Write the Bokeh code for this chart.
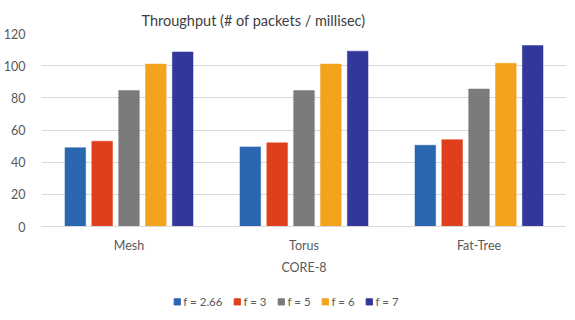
from bokeh.plotting import figure
from bokeh.layouts import column
from bokeh.models import ColumnDataSource, FactorRange, Legend, LegendItem
from bokeh.transform import dodge
from bokeh.embed import file_html
from bokeh.resources import INLINE

categories = ["Mesh", "Torus", "Fat-Tree"]
series_names = ["f = 2.66", "f = 3", "f = 5", "f = 6", "f = 7"]
f_266 = [49, 49.5, 50.5]
f_3 = [53, 52, 54]
f_5 = [84.5, 84.5, 85.5]
f_6 = [101, 101, 101.5]
f_7 = [108.5, 109, 112.5]
y_ticks = [0, 20, 40, 60, 80, 100, 120]
group_label = "CORE-8"
title_text = "Throughput (# of packets / millisec)"

colors = ["#2b66b1", "#e03f1b", "#7b7b7b", "#f4a31d", "#33379a"]
keys = ["f266", "f3", "f5", "f6", "f7"]
source = ColumnDataSource(dict(cat=categories, f266=f_266, f3=f_3, f5=f_5, f6=f_6, f7=f_7))

FONT = "Lato"
TXT = "#595959"

p = figure(x_range=FactorRange(*categories), y_range=(0, 120),
           frame_width=525, frame_height=193, output_backend="svg", toolbar_location=None,
           min_border_left=34, min_border_right=0, min_border_top=33, min_border_bottom=64)
p.background_fill_color = "white"
p.border_fill_color = "white"
p.outline_line_color = None

step = 0.1534
for i, (k, c) in enumerate(zip(keys, colors)):
    p.vbar(x=dodge("cat", (i - 2) * step, range=p.x_range), top=k, width=0.118,
           source=source, fill_color=c, line_color=c, line_width=0.5)

p.title.text = title_text
p.title.text_font = FONT
p.title.text_font_size = "14.5px"
p.title.text_font_style = "normal"
p.title.text_color = "#404040"
p.title.align = "left"
p.title.offset = 100

p.xgrid.grid_line_color = None
p.ygrid.grid_line_color = "#d9d9d9"
p.ygrid.grid_line_width = 1
p.yaxis.ticker = y_ticks
p.yaxis.axis_line_color = None
p.yaxis.major_tick_line_color = None
p.yaxis.minor_tick_line_color = None
p.yaxis.major_label_text_font = FONT
p.yaxis.major_label_text_font_size = "12.5px"
p.yaxis.major_label_text_color = TXT
p.yaxis.major_label_standoff = 10

p.xaxis.axis_line_color = "#d9d9d9"
p.xaxis.major_tick_line_color = None
p.xaxis.minor_tick_line_color = None
p.xaxis.major_label_text_font = FONT
p.xaxis.major_label_text_font_size = "12.5px"
p.xaxis.major_label_text_color = TXT
p.xaxis.major_label_standoff = 5
p.xaxis.axis_label = group_label
p.xaxis.axis_label_text_font = FONT
p.xaxis.axis_label_text_font_size = "12.5px"
p.xaxis.axis_label_text_font_style = "normal"
p.xaxis.axis_label_text_color = TXT
p.xaxis.axis_label_standoff = 4

# separate strip holding the legend (bars there fall outside its y-range)
lf = figure(x_range=p.x_range, y_range=(1000, 1001), width=530, height=22,
            x_axis_type=None, y_axis_type=None, output_backend="svg", toolbar_location=None,
            min_border=0)
lf.outline_line_color = None
lf.xgrid.grid_line_color = None
lf.ygrid.grid_line_color = None
lrs = []
for i, (k, c) in enumerate(zip(keys, colors)):
    r = lf.vbar(x=dodge("cat", (i - 2) * step, range=lf.x_range), top=k, width=0.118,
                source=source, fill_color=c, line_color=c)
    lrs.append(r)

legend = Legend(items=[LegendItem(label=n, renderers=[r]) for n, r in zip(series_names, lrs)],
                orientation="horizontal", location="center",
                label_text_font=FONT, label_text_font_size="11.5px", label_text_color=TXT,
                glyph_width=8, glyph_height=8, label_standoff=3, spacing=10, label_height=12,
                border_line_color=None, background_fill_alpha=0, padding=2, margin=0)
lf.add_layout(legend, "center")

layout = column(p, lf)
open("out.html", "w").write(file_html(layout, INLINE))
